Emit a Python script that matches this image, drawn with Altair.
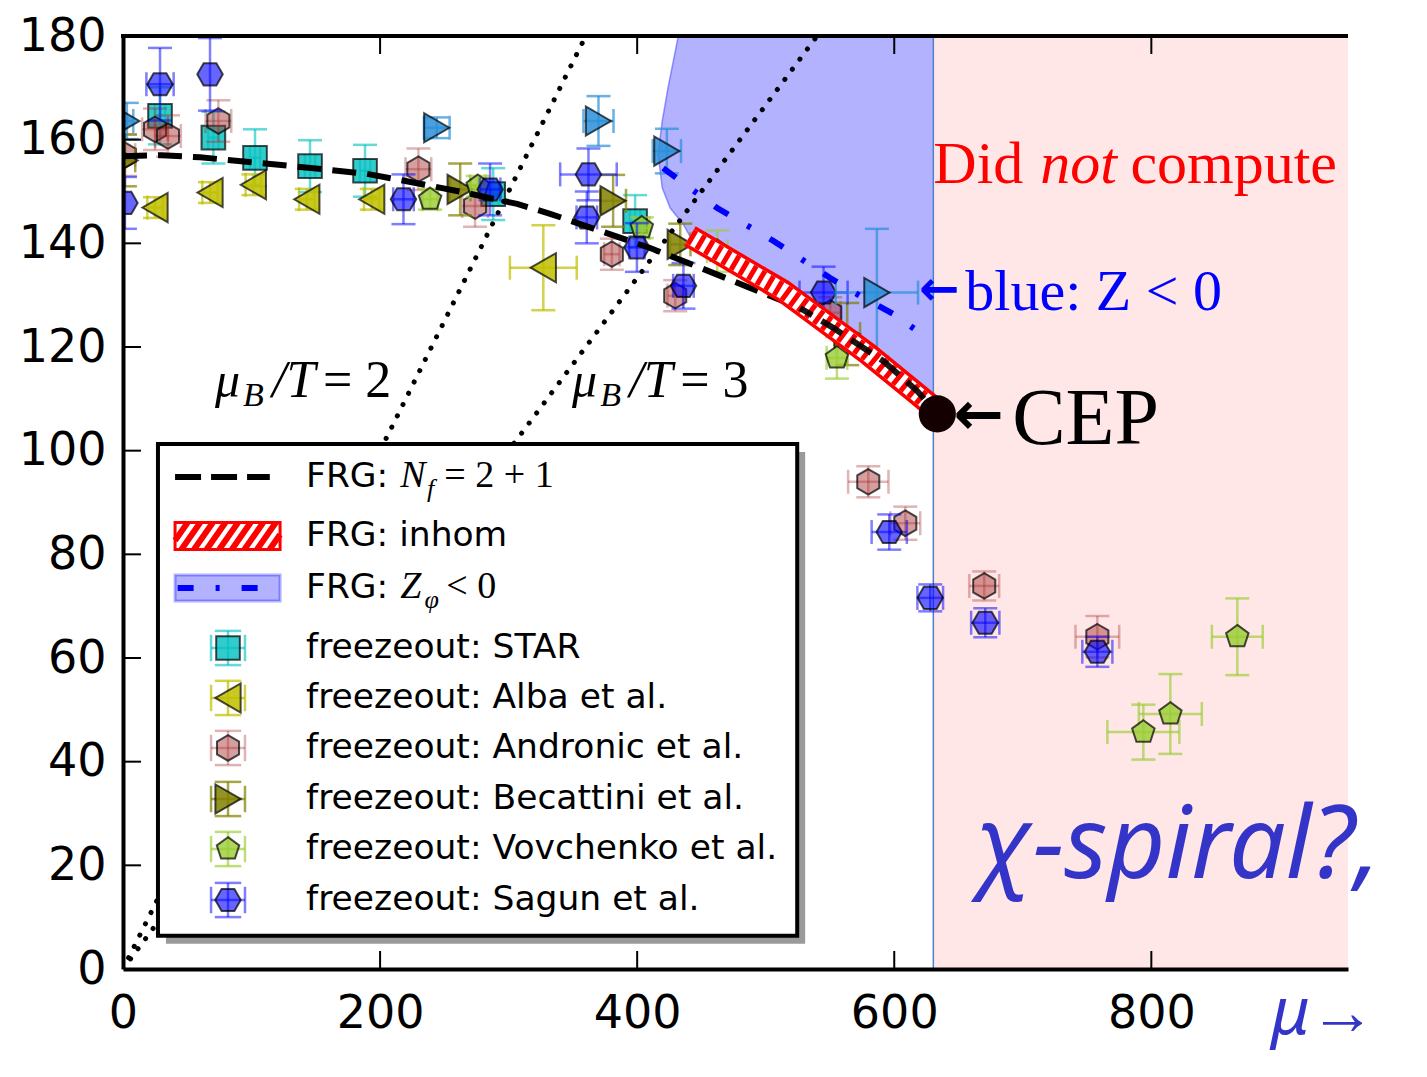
import altair as alt
import pandas as pd

# ---------------- plot frame ----------------
W, H = 1225, 933
X_DOMAIN = [0, 953]
Y_DOMAIN = [0, 180]
X_TICKS = [0, 200, 400, 600, 800]
Y_TICKS = [0, 20, 40, 60, 80, 100, 120, 140, 160, 180]

# ---------------- freeze-out data (mu_B, T, err_mu, err_T) ----------------
star_mu = [28.8, 70.3, 102.7, 145.5, 188.3, 288.0, 398.4]
star_T = [164.6, 160.4, 156.5, 154.9, 154.0, 149.5, 144.3]
star_dmu = [4, 4, 4, 4, 4, 4, 4]
star_dT = [5.5, 5.0, 5.5, 5.0, 5.0, 5.0, 5.0]

alba_mu = [24.9, 67.7, 101.4, 143.0, 193.5, 327.0]
alba_T = [146.9, 149.8, 151.3, 148.5, 148.5, 135.3]
alba_dmu = [6, 6, 6, 6, 6, 26]
alba_dT = [2, 2, 2, 2, 2, 8.2]

andr_mu = [1.5, 24.9, 35.0, 74.2, 229.8, 273.9, 380.3, 429.6, 550.2, 579.8, 608.6, 670.0, 758.0]
andr_T = [157.0, 162.0, 160.7, 163.6, 154.3, 147.2, 137.9, 129.9, 126.6, 94.0, 86.0, 73.9, 64.1]
andr_dmu = [8, 10, 10, 10, 10, 10, 6, 6, 8, 15.7, 11.6, 11.6, 17]
andr_dT = [4, 4, 4, 4, 4, 4, 3, 3, 3, 3, 3.2, 2.8, 4]

bec_mu = [1.5, 262.3, 381.3, 433.5, 563.4]
bec_T = [156.0, 150.4, 148.2, 139.8, 122.5]
bec_dmu = [8, 8, 10, 8, 10]
bec_dT = [5, 5, 5, 4, 6]

vov_mu = [238.9, 276.0, 403.6, 462.3, 555.4, 793.8, 814.8, 866.9]
vov_T = [148.5, 151.0, 143.0, 138.5, 117.9, 45.7, 49.2, 64.1]
vov_dmu = [6, 6, 6, 8, 8, 28, 24.5, 19.8]
vov_dT = [2, 2, 2, 4, 4, 5.3, 7.7, 7.4]

sag_mu = [1.5, 28.8, 67.7, 218.2, 285.6, 362.1, 360.8, 399.8, 436.0, 545.0, 596.1, 628.0, 670.8, 758.0]
sag_T = [147.8, 170.7, 172.6, 148.5, 150.4, 153.3, 145.0, 139.2, 131.8, 130.5, 84.3, 71.6, 66.8, 61.2]
sag_dmu = [0, 10.6, 0, 8, 8, 22, 8, 6, 8, 18.7, 13.7, 10, 11, 11.7]
sag_dT = [5, 7, 7, 4.8, 5, 5, 5, 4.7, 4.4, 5, 3.4, 2.6, 2.8, 2.9]

tri_mu = [3.0, 244.1, 369.9, 423.1, 586.5]
tri_T = [163.6, 162.3, 163.6, 157.8, 130.5]
tri_dmu = [5, 10, 11.7, 11, 32]
tri_dT = [3.5, 2, 4.8, 4.3, 12.3]

# ---------------- FRG curves ----------------
nf_mu = [0, 30, 60, 106.6, 147.9, 189.9, 228.8, 267.7, 306.6, 332.3, 371.2, 410.1, 449.0,
         487.9, 526.8, 552.5, 591.4, 617.9, 633.5]
nf_T = [156.8, 157.0, 156.6, 155.5, 154.5, 153.4, 151.6, 149.7, 147.6, 145.7, 142.4, 139.1,
        135.3, 131.4, 127.5, 123.7, 117.3, 111.5, 107.1]

inhom_mu = [441.0, 513.6, 579.0, 618.0, 632.0]
inhom_T = [141.4, 130.8, 118.8, 110.9, 108.0]

zline_mu = [420.2, 462.3, 505.8, 550.2, 575.9, 599.2, 620.2]
zline_T = [154.5, 146.8, 140.5, 133.3, 129.5, 126.4, 122.7]

zarea_T = [180, 170, 163.6, 157.2, 150.7, 146.8, 143.7, 141.4, 130.8, 118.8, 110.9, 108.0]
zarea_mu_left = [432, 424, 419.5, 416.3, 419.5, 425.7, 435.8, 441.0, 513.6, 579.0, 618.0, 630.4]
zarea_mu_right = 630.4

nocompute_mu = [630.4, 953]
cep_mu = [633.5]
cep_T = [107.1]

ratio2_mu = [0, 360]
ratio2_T = [0, 180]
ratio3_mu = [0, 540]
ratio3_T = [0, 180]

# ---------------- legend anchors (data coords) ----------------
leg_box_mu = [27.2, 524.5]
leg_box_T = [6.4, 101.3]
leg_shadow_mu = [33.4, 530.7]
leg_shadow_T = [4.85, 99.75]
leg_rows = [94.93, 83.54, 73.51, 61.93, 52.29, 42.64, 32.80, 23.15, 13.31]
leg_handle_mu = [40.5, 122.2]
leg_marker_mu = 81.7
leg_label_mu = 142.4
leg_labels = ["FRG:", "FRG: inhom", "FRG:", "freezeout: STAR", "freezeout: Alba et al.",
              "freezeout: Andronic et al.", "freezeout: Becattini et al.",
              "freezeout: Vovchenko et al.", "freezeout: Sagun et al."]

# ---------------- styles ----------------
XS = alt.Scale(domain=X_DOMAIN, nice=False, zero=False)
YS = alt.Scale(domain=Y_DOMAIN, nice=False, zero=False)
XAX = alt.Axis(values=X_TICKS, title=None, labelPadding=22, zindex=2, labelFlush=False, labelOverlap=False)
YAX = alt.Axis(values=Y_TICKS, title=None, labelPadding=17, zindex=2, labelFlush=False, labelOverlap=False)


def X(f):
    return alt.X(f, type="quantitative", scale=XS, axis=XAX)


def Y(f):
    return alt.Y(f, type="quantitative", scale=YS, axis=YAX)


HEXP = "M0,-1L0.866,-0.5L0.866,0.5L0,1L-0.866,0.5L-0.866,-0.5Z"
HEXF = "M-1,0L-0.5,-0.866L0.5,-0.866L1,0L0.5,0.866L-0.5,0.866Z"
PENT = "M0,-1L0.951,-0.309L0.588,0.809L-0.588,0.809L-0.951,-0.309Z"
CAP_H = "M-1,0L1,0"
CAP_V = "M0,-1L0,1"

SERIES = [
    (star_mu, star_T, star_dmu, star_dT, dict(shape="square", fill="#00bfbf", fo=0.8, size=560, eo=0.6)),
    (alba_mu, alba_T, alba_dmu, alba_dT, dict(shape="triangle-left", fill="#bfbf00", fo=0.85, size=850, eo=0.7)),
    (andr_mu, andr_T, andr_dmu, andr_dT, dict(shape=HEXP, fill="#a52a2a", fo=0.45, size=650, eo=0.35)),
    (bec_mu, bec_T, bec_dmu, bec_dT, dict(shape="triangle-right", fill="#808000", fo=0.85, size=850, eo=0.7)),
    (vov_mu, vov_T, vov_dmu, vov_dT, dict(shape=PENT, fill="#9acd32", fo=0.8, size=560, eo=0.65)),
    (sag_mu, sag_T, sag_dmu, sag_dT, dict(shape=HEXF, fill="#0000ff", fo=0.6, size=650, eo=0.5)),
]
TRI_STYLE = dict(shape="triangle-right", fill="#2a8fd8", fo=0.85, size=850, eo=0.7)


def series_layers(mu, T, dmu, dT, st, cap=576):
    df = pd.DataFrame({"x": mu, "y": T, "dx": dmu, "dy": dT})
    df["xlo"] = df.x - df.dx
    df["xhi"] = df.x + df.dx
    df["ylo"] = df.y - df.dy
    df["yhi"] = df.y + df.dy
    caps = []
    for r in df.itertuples():
        if r.dy > 0:
            caps += [(r.x, r.ylo, CAP_H), (r.x, r.yhi, CAP_H)]
        if r.dx > 0:
            caps += [(r.xlo, r.y, CAP_V), (r.xhi, r.y, CAP_V)]
    cdf = pd.DataFrame(caps, columns=["x", "y", "s"])
    col = st["fill"]
    out = []
    dxdf = df[df.dx > 0]
    if len(dxdf):
        out.append(alt.Chart(dxdf).mark_rule(color=col, strokeWidth=2.5, opacity=st["eo"], clip=True)
                   .encode(x=X("xlo"), x2=alt.X2("xhi"), y=Y("y")))
    dydf = df[df.dy > 0]
    if len(dydf):
        out.append(alt.Chart(dydf).mark_rule(color=col, strokeWidth=2.5, opacity=st["eo"], clip=True)
                   .encode(x=X("x"), y=Y("ylo"), y2=alt.Y2("yhi")))
    out.append(alt.Chart(cdf).mark_point(color=col, filled=False, strokeWidth=2.5, opacity=st["eo"],
                                         size=cap, clip=True)
               .encode(x=X("x"), y=Y("y"), shape=alt.Shape("s:N", scale=None)))
    out.append(alt.Chart(df).mark_point(shape=st["shape"], filled=True, fill=col, fillOpacity=st["fo"],
                                        stroke="black", strokeOpacity=0.7, strokeWidth=2,
                                        size=st["size"], clip=True)
               .encode(x=X("x"), y=Y("y")))
    return out


def text_layer(xs, ys, ts, **props):
    df = pd.DataFrame({"x": xs, "y": ys, "t": ts})
    base = dict(align="left", baseline="alphabetic")
    base.update(props)
    return alt.Chart(df).mark_text(**base).encode(x=X("x"), y=Y("y"), text=alt.Text("t:N"))


def hatch_path(hh=0.257, step=0.24, slant=0.36):
    parts = []
    x = -1 - slant
    while x < 1:
        xa, ya, yb = x, hh, -hh
        t0 = max(0.0, (-1 - xa) / slant)
        t1 = min(1.0, (1 - xa) / slant)
        if t1 > t0:
            p0 = (xa + t0 * slant, ya + t0 * (yb - ya))
            p1 = (xa + t1 * slant, ya + t1 * (yb - ya))
            parts.append(f"M{p0[0]:.3f},{p0[1]:.3f}L{p1[0]:.3f},{p1[1]:.3f}")
        x += step
    return "".join(parts)


layers = []

# pink "did not compute" region
layers.append(alt.Chart(pd.DataFrame({"x": [nocompute_mu[0]], "x2": [nocompute_mu[1]],
                                      "y": [Y_DOMAIN[0]], "y2": [Y_DOMAIN[1]]}))
              .mark_rect(color="#ffe7e7")
              .encode(x=X("x"), x2=alt.X2("x2"), y=Y("y"), y2=alt.Y2("y2")))

# blue Z<0 region
zdf = pd.DataFrame({"y": zarea_T, "xl": zarea_mu_left, "xr": [zarea_mu_right] * len(zarea_T),
                    "i": list(range(len(zarea_T)))})
layers.append(alt.Chart(zdf).mark_area(orient="horizontal", color="#0000ff", opacity=0.3, clip=True)
              .encode(y=Y("y"), x=alt.X("xl", type="quantitative", scale=XS, axis=XAX, stack=None),
                      x2=alt.X2("xr")))
layers.append(alt.Chart(zdf[zdf.y > 141]).mark_line(color="#3a3aff", opacity=0.5, strokeWidth=1.5, clip=True)
              .encode(x=X("xl"), y=Y("y"), order=alt.Order("i:Q")))
layers.append(alt.Chart(pd.DataFrame({"x": [zarea_mu_right]}))
              .mark_rule(color="#4f7fd0", strokeWidth=1.5)
              .encode(x=X("x"), y=alt.value(0), y2=alt.value(H)))

# freeze-out points
for mu, T, dmu, dT, st in SERIES:
    layers += series_layers(mu, T, dmu, dT, st)
layers += series_layers(tri_mu, tri_T, tri_dmu, tri_dT, TRI_STYLE)

# mu_B/T lines
rdf = pd.DataFrame({"x": ratio2_mu + ratio3_mu, "y": ratio2_T + ratio3_T, "g": ["2", "2", "3", "3"]})
layers.append(alt.Chart(rdf).mark_line(color="black", strokeWidth=5, strokeDash=[0.1, 12.5],
                                       strokeCap="round", clip=True)
              .encode(x=X("x"), y=Y("y"), detail="g:N"))

# FRG Nf=2+1 line
layers.append(alt.Chart(pd.DataFrame({"x": nf_mu, "y": nf_T}))
              .mark_line(color="black", strokeWidth=6, strokeDash=[24, 11], clip=True)
              .encode(x=X("x"), y=Y("y")))

# FRG inhom band
idf = pd.DataFrame({"x": inhom_mu, "y": inhom_T})
layers.append(alt.Chart(idf).mark_line(color="#ff0000", strokeWidth=23, strokeJoin="round")
              .encode(x=X("x"), y=Y("y")))
layers.append(alt.Chart(idf).mark_line(color="white", strokeWidth=16, strokeJoin="round")
              .encode(x=X("x"), y=Y("y")))
layers.append(alt.Chart(idf).mark_line(color="#ff0000", strokeWidth=16, strokeDash=[5, 5])
              .encode(x=X("x"), y=Y("y")))
layers.append(alt.Chart(pd.DataFrame({"x": nf_mu[-5:], "y": nf_T[-5:]}))
              .mark_line(color="black", strokeWidth=6, strokeDash=[24, 11], strokeDashOffset=10, opacity=0.9)
              .encode(x=X("x"), y=Y("y")))

# Z<0 dash-dot line
layers.append(alt.Chart(pd.DataFrame({"x": zline_mu, "y": zline_T}))
              .mark_line(color="#0000ff", strokeWidth=6, strokeDash=[16, 22, 4, 22], clip=True)
              .encode(x=X("x"), y=Y("y")))

# CEP
layers.append(alt.Chart(pd.DataFrame({"x": cep_mu, "y": cep_T}))
              .mark_point(shape="circle", filled=True, fill="#140000", opacity=1, size=1385)
              .encode(x=X("x"), y=Y("y")))

# inward ticks and top spine
layers.append(alt.Chart(pd.DataFrame({"x": X_TICKS[1:]})).mark_rule(color="black", strokeWidth=2)
              .encode(x=X("x"), y=alt.value(H), y2=alt.value(H - 18)))
layers.append(alt.Chart(pd.DataFrame({"x": X_TICKS[1:]})).mark_rule(color="black", strokeWidth=2)
              .encode(x=X("x"), y=alt.value(0), y2=alt.value(18)))
layers.append(alt.Chart(pd.DataFrame({"y": Y_TICKS[1:-1]})).mark_rule(color="black", strokeWidth=2)
              .encode(y=Y("y"), x=alt.value(0), x2=alt.value(18)))
layers.append(alt.Chart(pd.DataFrame({"a": [0]})).mark_rule(color="black", strokeWidth=4)
              .encode(x=alt.value(-2), x2=alt.value(W), y=alt.value(0)))

# ---------------- legend ----------------
layers.append(alt.Chart(pd.DataFrame({"x": [leg_shadow_mu[0]], "x2": [leg_shadow_mu[1]],
                                      "y": [leg_shadow_T[0]], "y2": [leg_shadow_T[1]]}))
              .mark_rect(color="#9a9a9a")
              .encode(x=X("x"), x2=alt.X2("x2"), y=Y("y"), y2=alt.Y2("y2")))
layers.append(alt.Chart(pd.DataFrame({"x": [leg_box_mu[0]], "x2": [leg_box_mu[1]],
                                      "y": [leg_box_T[0]], "y2": [leg_box_T[1]]}))
              .mark_rect(fill="white", stroke="black", strokeWidth=4)
              .encode(x=X("x"), x2=alt.X2("x2"), y=Y("y"), y2=alt.Y2("y2")))
# Nf handle
layers.append(alt.Chart(pd.DataFrame({"x": [leg_handle_mu[0], leg_handle_mu[1] - 8],
                                      "y": [leg_rows[0], leg_rows[0]]}))
              .mark_line(color="black", strokeWidth=6, strokeDash=[26, 10])
              .encode(x=X("x"), y=Y("y")))
# inhom handle
layers.append(alt.Chart(pd.DataFrame({"x": [leg_handle_mu[0]], "x2": [leg_handle_mu[1]],
                                      "y": [leg_rows[1] - 2.6], "y2": [leg_rows[1] + 2.6]}))
              .mark_rect(fill="white", stroke="#ff0000", strokeWidth=3)
              .encode(x=X("x"), x2=alt.X2("x2"), y=Y("y"), y2=alt.Y2("y2")))
layers.append(alt.Chart(pd.DataFrame({"x": [sum(leg_handle_mu) / 2], "y": [leg_rows[1]]}))
              .mark_point(shape=hatch_path(), filled=False, stroke="#ff0000", strokeWidth=6,
                          opacity=1, size=105 * 105)
              .encode(x=X("x"), y=Y("y")))
# Z handle
layers.append(alt.Chart(pd.DataFrame({"x": [leg_handle_mu[0]], "x2": [leg_handle_mu[1]],
                                      "y": [leg_rows[2] - 2.5], "y2": [leg_rows[2] + 2.5]}))
              .mark_rect(fill="#0000ff", fillOpacity=0.3, stroke="#0000ff", strokeOpacity=0.3, strokeWidth=3)
              .encode(x=X("x"), x2=alt.X2("x2"), y=Y("y"), y2=alt.Y2("y2")))
layers.append(alt.Chart(pd.DataFrame({"x": [leg_handle_mu[0] + 2, leg_handle_mu[1] - 2],
                                      "y": [leg_rows[2], leg_rows[2]]}))
              .mark_line(color="#0000ff", strokeWidth=6, strokeDash=[16, 22, 4, 22])
              .encode(x=X("x"), y=Y("y")))
# marker handles
for k, (mu, T, dmu, dT, st) in enumerate(SERIES):
    layers += series_layers([leg_marker_mu], [leg_rows[3 + k]], [13.2], [3.3], st, cap=700)

# legend labels
layers.append(text_layer([leg_label_mu] * 9, leg_rows, leg_labels, baseline="middle",
                         font="DejaVu Sans", fontSize=34.5, color="black"))
layers.append(text_layer([215.6, 215.6], [leg_rows[0] - 1.9, leg_rows[2] - 1.9], ["N", "Z"],
                         font="Liberation Serif", fontStyle="italic", fontSize=38, color="black"))
layers.append(text_layer([236.5, 234.5], [leg_rows[0] - 3.9, leg_rows[2] - 3.9], ["f", "φ"],
                         font="Liberation Serif", fontStyle="italic", fontSize=26, color="black"))
layers.append(text_layer([250.0, 251.5], [leg_rows[0] - 1.9, leg_rows[2] - 1.9], ["= 2 + 1", "< 0"],
                         font="Liberation Serif", fontSize=38, color="black"))

# ---------------- annotations ----------------
layers.append(text_layer([71.6, 349.4], [110.4, 110.4], ["μ", "μ"],
                         font="Liberation Serif", fontStyle="italic", fontSize=50, color="black"))
layers.append(text_layer([93.4, 371.2], [108.6, 108.6], ["B", "B"],
                         font="Liberation Serif", fontStyle="italic", fontSize=34, color="black"))
layers.append(text_layer([116.0, 393.8], [110.4, 110.4], ["/T", "/T"],
                         font="Liberation Serif", fontStyle="italic", fontSize=52, color="black"))
layers.append(text_layer([155.5, 433.5], [110.4, 110.4], ["= 2", "= 3"],
                         font="Liberation Serif", fontSize=52, color="black"))

layers.append(text_layer([630.4, 783.7], [151.6, 151.6], ["Did", "compute"],
                         font="Liberation Serif", fontSize=60, color="#ff0000"))
layers.append(text_layer([713.6], [151.6], ["not"],
                         font="Liberation Serif", fontStyle="italic", fontSize=60, color="#ff0000"))
layers.append(text_layer([619.5], [130.8], ["←"], baseline="middle",
                         font="DejaVu Sans", fontWeight="bold", fontSize=48, color="#0000ff"))
layers.append(text_layer([655.3], [127.1], ["blue: Z < 0"],
                         font="Liberation Serif", fontSize=58, color="#0000ff"))
layers.append(text_layer([646.0], [106.7], ["←"], baseline="middle",
                         font="DejaVu Sans", fontWeight="bold", fontSize=60, color="black"))
layers.append(text_layer([691.8], [101.3], ["CEP"],
                         font="Liberation Serif", fontSize=80, color="black"))

# handwritten notes
layers.append(text_layer([663.0], [17.5], ["χ-spiral?,"],
                         font="Noto Sans", fontStyle="italic", fontSize=100, color="#3434c8"))
layers.append(text_layer([893.0], [-12.5], ["μ→"],
                         font="Noto Sans", fontStyle="italic", fontSize=66, color="#3434c8"))

chart = (alt.layer(*layers)
         .properties(width=W, height=H,
                     padding={"left": 115, "top": 28, "right": 64, "bottom": 94},
                     autosize=alt.AutoSizeParams(type="none"))
         .configure_view(stroke=None)
         .configure_axis(labelFont="DejaVu Sans", labelFontSize=46, labelColor="black",
                         domainColor="black", domainWidth=4, ticks=False, grid=False))

chart.save("out.html", embed_options={"renderer": "svg", "actions": False})
